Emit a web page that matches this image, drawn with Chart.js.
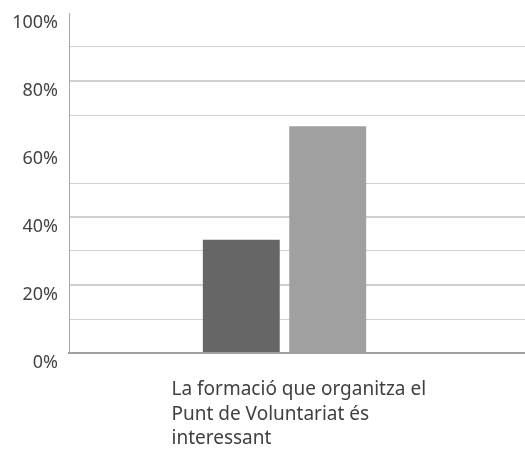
<!DOCTYPE html>
<html>
<head>
<meta charset="utf-8">
<script src="https://cdn.jsdelivr.net/npm/chart.js@4"></script>
<style>
    html, body { margin: 0; padding: 0; background: #fff; }
    #wrap { width: 525px; height: 450px; }
</style>
</head>
<body>
<div id="wrap"><canvas id="chart" width="525" height="450"></canvas></div>
<script>
// dades
const categories = [['La formació que organitza el', 'Punt de Voluntariat és', 'interessant']];
const seriesDark = [33.33];
const seriesLight = [66.67];
const tickLabels = { 0: '0%', 20: '20%', 40: '40%', 60: '60%', 80: '80%', 100: '100%' };

// mateix arrodoniment que fa Chart.js amb les línies
function align(px, w) {
    return Math.round(px - w / 2) + w / 2;
}

// la graella arriba fins a la vora dreta del llenç
const extendGrid = {
    id: 'extendGrid',
    beforeDatasetsDraw(chart) {
        const ctx = chart.ctx;
        const area = chart.chartArea;
        const y = chart.scales.y;
        ctx.save();
        y.ticks.forEach(t => {
            if (t.value === 0 || t.value === 60 || t.value === 100) return;
            const w = t.value % 20 === 0 ? 2 : 1;
            const py = align(y.getPixelForValue(t.value), w);
            ctx.strokeStyle = '#d0d0d0';
            ctx.lineWidth = w;
            ctx.beginPath();
            ctx.moveTo(area.right - 2, py);
            ctx.lineTo(chart.width, py);
            ctx.stroke();
        });
        const py0 = align(y.getPixelForValue(0), 2);
        ctx.strokeStyle = '#a0a0a0';
        ctx.lineWidth = 2;
        ctx.beginPath();
        ctx.moveTo(area.right - 2, py0);
        ctx.lineTo(chart.width, py0);
        ctx.stroke();
        ctx.restore();
    }
};

new Chart(document.getElementById('chart'), {
    type: 'bar',
    data: {
        labels: categories,
        datasets: [
            {
                data: seriesDark,
                backgroundColor: '#666666',
                barPercentage: 0.89,
                categoryPercentage: 0.401
            },
            {
                data: seriesLight,
                backgroundColor: '#a0a0a0',
                barPercentage: 0.89,
                categoryPercentage: 0.401
            }
        ]
    },
    plugins: [extendGrid],
    options: {
        responsive: false,
        animation: false,
        layout: {
            padding: { top: 13, right: 25, bottom: 0, left: 0 }
        },
        plugins: {
            legend: { display: false },
            tooltip: { enabled: false }
        },
        scales: {
            x: {
                grid: { display: false },
                border: { display: true, color: '#a0a0a0', width: 2 },
                afterFit: scale => { scale.height = 97; scale.paddingLeft = 0; scale.paddingRight = 0; },
                ticks: {
                    align: 'start',
                    labelOffset: -113,
                    padding: 17,
                    color: '#404040',
                    font: { family: 'Noto Sans', size: 19, lineHeight: 1.27 }
                }
            },
            y: {
                min: 0,
                max: 100,
                afterFit: scale => { scale.width = 69; scale.paddingTop = 0; scale.paddingBottom = 0; },
                border: { display: true, color: '#a8a8a8', width: 1 },
                grid: {
                    drawTicks: false,
                    color: ctx => (ctx.tick && (ctx.tick.value === 60 || ctx.tick.value === 100)) ? 'rgba(0,0,0,0)' : '#d0d0d0',
                    lineWidth: ctx => (ctx.tick && ctx.tick.value % 20 === 0) ? 2 : 1
                },
                ticks: {
                    stepSize: 10,
                    padding: 11,
                    labelOffset: 10,
                    color: '#444',
                    font: { family: 'Noto Sans', size: 18 },
                    callback: v => tickLabels[v] || ''
                }
            }
        }
    }
});
</script>
</body>
</html>
